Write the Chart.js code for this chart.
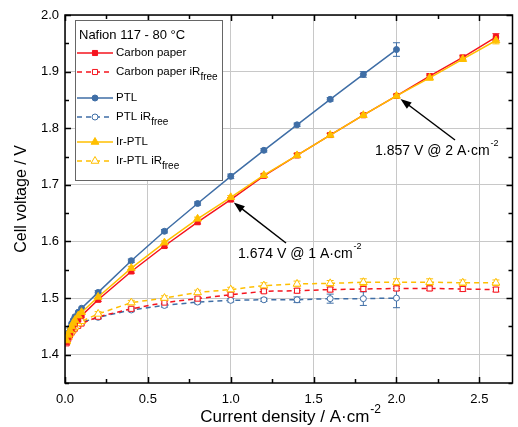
<!DOCTYPE html>
<html>
<head>
<meta charset="utf-8">
<script src="https://cdn.jsdelivr.net/npm/chart.js@4/dist/chart.umd.min.js"></script>
<style>
  html, body { margin: 0; padding: 0; background: #fff; }
  #wrap { position: relative; width: 518px; height: 427px; }
</style>
</head>
<body>
<div id="wrap"><canvas id="myChart" width="518" height="427"></canvas></div>
<script>
// current density (A/cm2) and cell voltages (V)
var currentDensity = [0.01, 0.02, 0.03, 0.04, 0.05, 0.06, 0.08, 0.1, 0.2, 0.4, 0.6, 0.8, 1.0, 1.2, 1.4, 1.6, 1.8, 2.0, 2.2, 2.4, 2.6];

var carbonPaper       = [1.422, 1.431, 1.438, 1.445, 1.450, 1.455, 1.462, 1.469, 1.497, 1.547, 1.592, 1.634, 1.674, 1.716, 1.752, 1.788, 1.823, 1.857, 1.892, 1.925, 1.961];
var carbonPaperIRfree = [1.420, 1.428, 1.434, 1.439, 1.443, 1.446, 1.451, 1.455, 1.467, 1.481, 1.492, 1.499, 1.506, 1.512, 1.513, 1.515, 1.516, 1.517, 1.517, 1.516, 1.515];
var ptl               = [1.428, 1.438, 1.447, 1.455, 1.461, 1.467, 1.475, 1.482, 1.510, 1.566, 1.618, 1.667, 1.715, 1.761, 1.806, 1.851, 1.895, 1.939];
var ptlIRfree         = [1.425, 1.432, 1.438, 1.443, 1.446, 1.449, 1.453, 1.457, 1.466, 1.479, 1.487, 1.493, 1.496, 1.497, 1.497, 1.499, 1.499, 1.500];
var irPtl             = [1.425, 1.435, 1.443, 1.450, 1.456, 1.461, 1.469, 1.475, 1.502, 1.553, 1.598, 1.640, 1.678, 1.717, 1.752, 1.788, 1.823, 1.857, 1.889, 1.922, 1.955];
var irPtlIRfree       = [1.423, 1.431, 1.437, 1.442, 1.446, 1.449, 1.455, 1.459, 1.472, 1.492, 1.500, 1.510, 1.515, 1.522, 1.525, 1.526, 1.528, 1.528, 1.528, 1.527, 1.527];

// error bar half-heights (V)
var carbonPaperErr       = [0.002, 0.002, 0.002, 0.002, 0.002, 0.002, 0.002, 0.002, 0.003, 0.003, 0.003, 0.003, 0.003, 0.003, 0.003, 0.003, 0.003, 0.003, 0.004, 0.004, 0.006];
var carbonPaperIRfreeErr = [0.002, 0.002, 0.002, 0.002, 0.002, 0.002, 0.002, 0.002, 0.003, 0.003, 0.003, 0.003, 0.003, 0.003, 0.004, 0.004, 0.004, 0.004, 0.004, 0.004, 0.004];
var ptlErr               = [0.002, 0.002, 0.002, 0.002, 0.002, 0.002, 0.002, 0.002, 0.003, 0.003, 0.003, 0.003, 0.004, 0.003, 0.003, 0.003, 0.005, 0.012];
var ptlIRfreeErr         = [0.002, 0.002, 0.002, 0.002, 0.002, 0.002, 0.002, 0.002, 0.003, 0.003, 0.003, 0.003, 0.003, 0.003, 0.005, 0.008, 0.012, 0.017];
var irPtlErr             = [0.002, 0.002, 0.002, 0.002, 0.002, 0.002, 0.002, 0.002, 0.003, 0.003, 0.003, 0.003, 0.003, 0.003, 0.004, 0.003, 0.003, 0.003, 0.004, 0.004, 0.006];
var irPtlIRfreeErr       = [0.002, 0.002, 0.002, 0.002, 0.002, 0.002, 0.002, 0.002, 0.004, 0.004, 0.004, 0.004, 0.004, 0.005, 0.005, 0.005, 0.006, 0.006, 0.006, 0.005, 0.005];

var xTickValues = [0, 0.5, 1.0, 1.5, 2.0, 2.5];
var yTickValues = [1.4, 1.5, 1.6, 1.7, 1.8, 1.9, 2.0];

var RED = '#f5141e', BLUE = '#3f6ea6', GOLD = '#ffbf00';
var FONT = '"Liberation Sans", Arial, sans-serif';

function pts(ys) {
    return ys.map(function(y, i) { return { x: currentDensity[i], y: y }; });
}

function series(label, ys, err, color, style, open, order) {
    return {
        label: label,
        data: pts(ys),
        err: err,
        isIR: open,
        borderColor: color,
        backgroundColor: open ? '#fff' : color,
        pointBackgroundColor: open ? '#fff' : color,
        pointBorderColor: color,
        pointBorderWidth: 1,
        pointStyle: style,
        pointRadius: style === 'triangle' ? 4.5 : (style === 'rect' ? 3.6 : 3),
        borderWidth: 1.5,
        borderDash: open ? [5, 4] : [],
        showLine: true,
        fill: false,
        tension: 0,
        order: order
    };
}

var datasets = [
    series('Carbon paper', carbonPaper, carbonPaperErr, RED, 'rect', false, 1),
    series('Carbon paper iR', carbonPaperIRfree, carbonPaperIRfreeErr, RED, 'rect', true, 4),
    series('PTL', ptl, ptlErr, BLUE, 'circle', false, 2),
    series('PTL iR', ptlIRfree, ptlIRfreeErr, BLUE, 'circle', true, 5),
    series('Ir-PTL', irPtl, irPtlErr, GOLD, 'triangle', false, 0),
    series('Ir-PTL iR', irPtlIRfree, irPtlIRfreeErr, GOLD, 'triangle', true, 3)
];

// error bars behind the markers
var errorBars = {
    id: 'errorBars',
    beforeDatasetsDraw: function(chart) {
        var ctx = chart.ctx, xs = chart.scales.x, ys = chart.scales.y;
        ctx.save();
        chart.data.datasets.forEach(function(ds) {
            ctx.strokeStyle = ds.borderColor;
            ctx.lineWidth = 1;
            ds.data.forEach(function(p, i) {
                var e = ds.err[i];
                var px = xs.getPixelForValue(p.x);
                var top = ys.getPixelForValue(p.y + e), bot = ys.getPixelForValue(p.y - e);
                if (bot - top < 3) return;
                ctx.beginPath();
                ctx.moveTo(px, top); ctx.lineTo(px, bot);
                ctx.moveTo(px - 3.5, top); ctx.lineTo(px + 3.5, top);
                ctx.moveTo(px - 3.5, bot); ctx.lineTo(px + 3.5, bot);
                ctx.stroke();
            });
        });
        ctx.restore();
    }
};

function textWithSub(ctx, x, y, main, sub, size) {
    ctx.font = size + 'px ' + FONT;
    ctx.fillText(main, x, y);
    var w = ctx.measureText(main).width;
    ctx.font = (size - 1.5) + 'px ' + FONT;
    ctx.fillText(sub, x + w, y + 5);
}

function textWithSup(ctx, x, y, main, sup, size) {
    ctx.font = size + 'px ' + FONT;
    ctx.fillText(main, x, y);
    var w = ctx.measureText(main).width;
    ctx.font = (size - 5) + 'px ' + FONT;
    ctx.fillText(sup, x + w + 1, y - 7);
}

function arrow(ctx, x1, y1, x2, y2) {
    var a = Math.atan2(y2 - y1, x2 - x1);
    ctx.beginPath();
    ctx.moveTo(x1, y1);
    ctx.lineTo(x2 - 8 * Math.cos(a), y2 - 8 * Math.sin(a));
    ctx.stroke();
    ctx.beginPath();
    ctx.moveTo(x2, y2);
    ctx.lineTo(x2 - 11 * Math.cos(a) + 4 * Math.sin(a), y2 - 11 * Math.sin(a) - 4 * Math.cos(a));
    ctx.lineTo(x2 - 11 * Math.cos(a) - 4 * Math.sin(a), y2 - 11 * Math.sin(a) + 4 * Math.cos(a));
    ctx.closePath();
    ctx.fill();
}

// frame with inward ticks, titles, legend and annotations
var decorations = {
    id: 'decorations',
    afterDraw: function(chart) {
        var ctx = chart.ctx, a = chart.chartArea, xs = chart.scales.x, ys = chart.scales.y;
        ctx.save();
        ctx.strokeStyle = '#000';
        ctx.fillStyle = '#000';
        ctx.lineWidth = 1.5;
        ctx.strokeRect(a.left, a.top, a.right - a.left, a.bottom - a.top);

        ctx.beginPath();
        for (var v = 0; v <= 2.7001; v += 0.25) {
            var px = Math.round(xs.getPixelForValue(v)) + 0.5;
            var len = (Math.round(v * 4) % 2 === 0) ? 6 : 4;
            ctx.moveTo(px, a.bottom); ctx.lineTo(px, a.bottom - len);
            ctx.moveTo(px, a.top); ctx.lineTo(px, a.top + len);
        }
        for (var w = 1.35; w <= 2.0001; w += 0.05) {
            var py = Math.round(ys.getPixelForValue(w)) + 0.5;
            var l2 = (Math.round(w * 20) % 2 === 0) ? 6 : 4;
            ctx.moveTo(a.left, py); ctx.lineTo(a.left + l2, py);
            ctx.moveTo(a.right, py); ctx.lineTo(a.right - l2, py);
        }
        ctx.stroke();

        // axis titles
        ctx.textBaseline = 'middle';
        ctx.textAlign = 'left';
        ctx.font = '17px ' + FONT;
        var xt = 'Current density / A\u00b7cm';
        var xw = ctx.measureText(xt).width;
        textWithSup(ctx, (a.left + a.right) / 2 - xw / 2 - 4, 417, xt, '-2', 17);
        ctx.save();
        ctx.translate(22, (a.top + a.bottom) / 2);
        ctx.rotate(-Math.PI / 2);
        ctx.textAlign = 'center';
        ctx.font = '16px ' + FONT;
        ctx.fillText('Cell voltage / V', 0, 0);
        ctx.restore();

        // annotations
        ctx.lineWidth = 1.5;
        arrow(ctx, 286, 243, xs.getPixelForValue(1.0) + 3, ys.getPixelForValue(1.674) + 3);
        arrow(ctx, 455, 140, xs.getPixelForValue(2.0) + 4, ys.getPixelForValue(1.857) + 3);
        ctx.textAlign = 'left';
        textWithSup(ctx, 238, 254, '1.674 V @ 1 A\u00b7cm', '-2', 14);
        textWithSup(ctx, 375, 151, '1.857 V @ 2 A\u00b7cm', '-2', 14);

        // legend
        ctx.fillStyle = '#fff';
        ctx.fillRect(75, 20, 147, 160);
        ctx.strokeStyle = '#666';
        ctx.lineWidth = 1;
        ctx.strokeRect(75.5, 20.5, 147, 160);
        ctx.fillStyle = '#000';
        ctx.font = '13px ' + FONT;
        ctx.fillText('Nafion 117 - 80 \u00b0C', 79, 35);
        var rowY = [53, 72, 98, 117, 142, 161];
        chart.data.datasets.forEach(function(ds, i) {
            var y = rowY[i];
            ctx.save();
            ctx.strokeStyle = ds.borderColor;
            ctx.lineWidth = 1.5;
            ctx.setLineDash(ds.borderDash);
            ctx.beginPath();
            ctx.moveTo(77, y); ctx.lineTo(113, y);
            ctx.stroke();
            ctx.setLineDash([]);
            ctx.fillStyle = ds.pointBackgroundColor;
            ctx.lineWidth = 1;
            Chart.helpers.drawPoint(ctx, { pointStyle: ds.pointStyle, radius: ds.pointRadius, borderWidth: 1, rotation: 0 }, 95, y);
            ctx.restore();
            ctx.fillStyle = '#000';
            if (ds.isIR) {
                textWithSub(ctx, 116, y, ds.label, 'free', 11.5);
            } else {
                ctx.font = '11.5px ' + FONT;
                ctx.fillText(ds.label, 116, y);
            }
        });
        ctx.restore();
    }
};

var gridStyle = { color: '#c8c8c8', lineWidth: 1, borderDash: [1, 2], drawTicks: false };

new Chart(document.getElementById('myChart'), {
    type: 'scatter',
    data: { datasets: datasets },
    options: {
        responsive: false,
        animation: false,
        layout: { padding: { top: 15, right: 2, left: 0, bottom: 0 } },
        plugins: { legend: { display: false }, tooltip: { enabled: false } },
        scales: {
            x: {
                type: 'linear', min: 0, max: 2.7,
                border: { display: false },
                grid: gridStyle,
                afterBuildTicks: function(s) { s.ticks = xTickValues.map(function(v) { return { value: v }; }); },
                afterFit: function(s) { s.height = 44; },
                ticks: {
                    padding: 9, color: '#000', font: { family: FONT, size: 13 },
                    callback: function(v) { return Number(v).toFixed(1); }
                }
            },
            y: {
                type: 'linear', min: 1.35, max: 2.0,
                border: { display: false },
                grid: gridStyle,
                afterBuildTicks: function(s) { s.ticks = yTickValues.map(function(v) { return { value: v }; }); },
                afterFit: function(s) { s.width = 65; },
                ticks: {
                    padding: 6, color: '#000', font: { family: FONT, size: 13 },
                    callback: function(v) { return Number(v).toFixed(1); }
                }
            }
        }
    },
    plugins: [errorBars, decorations]
});
</script>
</body>
</html>
